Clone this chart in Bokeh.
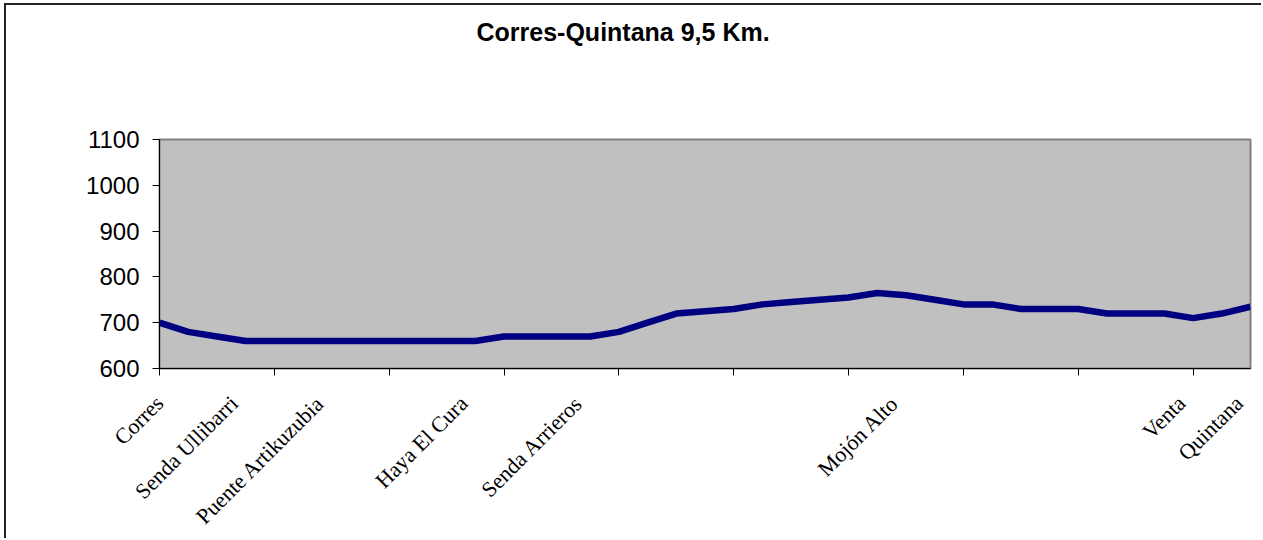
import math
from bokeh.plotting import figure
from bokeh.models import Range1d, FixedTicker, LinearAxis
from bokeh.embed import file_html
from bokeh.resources import INLINE

# ---- data ----
title_text = "Corres-Quintana 9,5 Km."
elevation = [700, 680, 670, 660, 660, 660, 660, 660, 660, 660,
             660, 660, 670, 670, 670, 670, 680, 700, 720, 725,
             730, 740, 745, 750, 755, 765, 760, 750, 740, 740,
             730, 730, 730, 720, 720, 720, 710, 720, 735]
place_names = ["Corres", "", "", "Senda Ullibarri", "", "", "Puente Artikuzubia", "", "", "",
               "", "Haya El Cura", "", "", "", "Senda Arrieros", "", "", "", "",
               "", "", "", "", "", "", "Mojón Alto", "", "", "",
               "", "", "", "", "", "", "Venta", "", "Quintana"]
y_ticks = [600, 700, 800, 900, 1000, 1100]
tick_every = 4

xs = list(range(len(elevation)))
n = len(elevation)
# rotated labels end slightly left of their category (clamped to the axis start)
label_shift = 0.4
lab_pos = {round(max(0, i - label_shift), 2): s for i, s in enumerate(place_names) if s}

p = figure(width=1257, height=535, output_backend="svg", toolbar_location=None,
           x_range=Range1d(0, n - 1), y_range=Range1d(y_ticks[0], y_ticks[-1]),
           x_axis_type=None, y_axis_type=None,
           min_border_left=153, min_border_right=13, min_border_top=134, min_border_bottom=170)
p.background_fill_color = "#C0C0C0"
p.border_fill_color = "white"
p.outline_line_color = "#808080"
p.outline_line_width = 2
p.styles = {"margin-left": "6px", "margin-top": "5px", "box-shadow": "-2px -2px 0 0 #222"}

# title (centred over the whole chart, not just the plot area)
p.title.text = title_text
p.title.align = "left"
p.title.offset = 317
p.title.text_font = "Liberation Sans"
p.title.text_font_size = "25px"
p.title.text_font_style = "bold"
p.title.text_color = "black"
p.title.standoff = 0
try:
    p.title.padding = dict(left=0, right=0, top=0, bottom=94)
except Exception:
    p.title.standoff = 94

# y axis
yax = LinearAxis(ticker=FixedTicker(ticks=y_ticks))
yax.major_label_text_font = "Liberation Sans"
yax.major_label_text_font_size = "24px"
yax.major_label_text_color = "black"
yax.major_tick_out = 7
yax.major_tick_in = 0
yax.minor_tick_line_color = None
yax.axis_line_color = "black"
yax.major_tick_line_color = "black"
yax.major_label_standoff = 13
p.add_layout(yax, "left")

# x axis: labels at their categories, tick marks every 4 categories
xax = LinearAxis(ticker=FixedTicker(ticks=list(lab_pos.keys()),
                                    minor_ticks=list(range(0, n, tick_every))))
xax.major_label_overrides = lab_pos
xax.major_label_orientation = math.pi / 4
xax.major_label_text_font = "Liberation Serif"
xax.major_label_text_font_size = "22px"
xax.major_label_text_color = "black"
xax.major_tick_line_color = None
xax.minor_tick_line_color = "black"
xax.minor_tick_out = 7
xax.minor_tick_in = 0
xax.axis_line_color = "black"
xax.major_label_standoff = 24
p.add_layout(xax, "below")

# grid
p.ygrid.ticker = FixedTicker(ticks=y_ticks)
p.ygrid.grid_line_color = "black"
p.ygrid.grid_line_width = 1
p.xgrid.visible = False

p.line(xs, elevation, line_color="#000080", line_width=6.5, line_join="round")

open("out.html", "w").write(file_html(p, INLINE))
